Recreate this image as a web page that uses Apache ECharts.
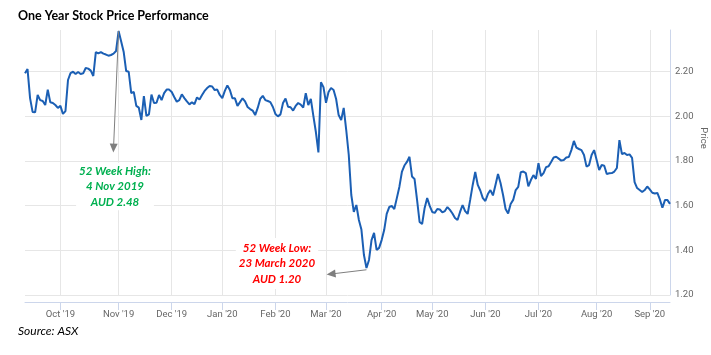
<!DOCTYPE html>
<html><head><meta charset="utf-8">
<script src="https://cdn.jsdelivr.net/npm/echarts@6/dist/echarts.min.js"></script>
<style>html,body{margin:0;padding:0;background:#fff}#c{width:711px;height:355px}</style>
</head><body><div id="c"></div>
<script>
// ASX trading days, 11 Sep 2019 - 11 Sep 2020
const tradingDays = [
"2019-09-11","2019-09-12","2019-09-13","2019-09-16","2019-09-17","2019-09-18","2019-09-19","2019-09-20","2019-09-23","2019-09-24","2019-09-25","2019-09-26","2019-09-27","2019-09-30",
"2019-10-01","2019-10-02","2019-10-03","2019-10-04","2019-10-07","2019-10-08","2019-10-09","2019-10-10","2019-10-11","2019-10-14","2019-10-15","2019-10-16","2019-10-17","2019-10-18","2019-10-21","2019-10-22","2019-10-23","2019-10-24","2019-10-25","2019-10-28","2019-10-29","2019-10-30","2019-10-31",
"2019-11-01","2019-11-04","2019-11-05","2019-11-06","2019-11-07","2019-11-08","2019-11-11","2019-11-12","2019-11-13","2019-11-14","2019-11-15","2019-11-18","2019-11-19","2019-11-20","2019-11-21","2019-11-22","2019-11-25","2019-11-26","2019-11-27","2019-11-28","2019-11-29",
"2019-12-02","2019-12-03","2019-12-04","2019-12-05","2019-12-06","2019-12-09","2019-12-10","2019-12-11","2019-12-12","2019-12-13","2019-12-16","2019-12-17","2019-12-18","2019-12-19","2019-12-20","2019-12-23","2019-12-24","2019-12-27","2019-12-30","2019-12-31",
"2020-01-02","2020-01-03","2020-01-06","2020-01-07","2020-01-08","2020-01-09","2020-01-10","2020-01-13","2020-01-14","2020-01-15","2020-01-16","2020-01-17","2020-01-20","2020-01-21","2020-01-22","2020-01-23","2020-01-24","2020-01-28","2020-01-29","2020-01-30","2020-01-31",
"2020-02-03","2020-02-04","2020-02-05","2020-02-06","2020-02-07","2020-02-10","2020-02-11","2020-02-12","2020-02-13","2020-02-14","2020-02-17","2020-02-18","2020-02-19","2020-02-20","2020-02-21","2020-02-24","2020-02-25","2020-02-26","2020-02-27","2020-02-28",
"2020-03-02","2020-03-03","2020-03-04","2020-03-05","2020-03-06","2020-03-09","2020-03-10","2020-03-11","2020-03-12","2020-03-13","2020-03-16","2020-03-17","2020-03-18","2020-03-19","2020-03-20","2020-03-23","2020-03-24","2020-03-25","2020-03-26","2020-03-27","2020-03-30","2020-03-31",
"2020-04-01","2020-04-02","2020-04-03","2020-04-06","2020-04-07","2020-04-08","2020-04-09","2020-04-14","2020-04-15","2020-04-16","2020-04-17","2020-04-20","2020-04-21","2020-04-22","2020-04-23","2020-04-24","2020-04-27","2020-04-28","2020-04-29","2020-04-30",
"2020-05-01","2020-05-04","2020-05-05","2020-05-06","2020-05-07","2020-05-08","2020-05-11","2020-05-12","2020-05-13","2020-05-14","2020-05-15","2020-05-18","2020-05-19","2020-05-20","2020-05-21","2020-05-22","2020-05-25","2020-05-26","2020-05-27","2020-05-28","2020-05-29",
"2020-06-01","2020-06-02","2020-06-03","2020-06-04","2020-06-05","2020-06-09","2020-06-10","2020-06-11","2020-06-12","2020-06-15","2020-06-16","2020-06-17","2020-06-18","2020-06-19","2020-06-22","2020-06-23","2020-06-24","2020-06-25","2020-06-26","2020-06-29","2020-06-30",
"2020-07-01","2020-07-02","2020-07-03","2020-07-06","2020-07-07","2020-07-08","2020-07-09","2020-07-10","2020-07-13","2020-07-14","2020-07-15","2020-07-16","2020-07-17","2020-07-20","2020-07-21","2020-07-22","2020-07-23","2020-07-24","2020-07-27","2020-07-28","2020-07-29","2020-07-30","2020-07-31",
"2020-08-03","2020-08-04","2020-08-05","2020-08-06","2020-08-07","2020-08-10","2020-08-11","2020-08-12","2020-08-13","2020-08-14","2020-08-17","2020-08-18","2020-08-19","2020-08-20","2020-08-21","2020-08-24","2020-08-25","2020-08-26","2020-08-27","2020-08-28","2020-08-31",
"2020-09-01","2020-09-02","2020-09-03","2020-09-04","2020-09-07","2020-09-08","2020-09-09","2020-09-10","2020-09-11"
];

// closing price (AUD), one per trading day
const prices = [
2.193,2.212,2.082,2.020,2.018,2.096,2.073,2.069,2.051,2.120,2.063,2.060,2.051,2.038,
2.047,2.011,2.024,2.163,2.194,2.200,2.190,2.199,2.190,2.193,2.217,2.214,2.205,2.181,2.288,2.282,2.288,2.281,2.277,2.272,2.275,2.281,2.293,
2.382,2.337,2.290,2.203,2.200,2.104,2.110,2.047,2.039,1.984,2.091,2.002,2.009,2.098,2.060,2.061,2.096,2.073,2.104,2.120,2.120,
2.109,2.087,2.066,2.073,2.099,2.082,2.067,2.054,2.063,2.055,2.085,2.076,2.096,2.114,2.127,2.136,2.134,2.118,2.120,2.096,
2.082,2.114,2.139,2.118,2.081,2.081,2.047,2.064,2.081,2.067,2.042,2.033,2.026,2.006,2.038,2.078,2.092,2.073,2.069,2.064,2.042,
2.011,2.000,2.009,2.060,2.080,2.043,2.041,2.026,2.047,2.060,2.053,2.040,2.104,2.051,2.078,2.002,1.930,1.839,2.153,2.131,
2.061,2.109,2.127,2.118,2.078,2.006,1.984,2.038,1.939,1.827,1.648,1.572,1.603,1.536,1.493,1.379,1.321,1.357,1.446,1.478,1.402,1.411,
1.446,1.491,1.563,1.594,1.599,1.585,1.634,1.684,1.751,1.780,1.796,1.819,1.731,1.720,1.626,1.527,1.518,1.590,1.634,1.599,
1.572,1.568,1.585,1.583,1.570,1.576,1.594,1.581,1.565,1.545,1.536,1.572,1.603,1.576,1.563,1.626,1.693,1.751,1.693,1.668,1.634,
1.621,1.652,1.670,1.646,1.693,1.742,1.702,1.648,1.585,1.565,1.608,1.626,1.670,1.684,1.750,1.753,1.746,1.687,1.715,1.737,1.720,
1.790,1.733,1.746,1.773,1.777,1.796,1.816,1.819,1.811,1.802,1.805,1.816,1.818,1.849,1.890,1.860,1.854,1.849,1.827,1.775,1.782,1.827,1.849,
1.805,1.760,1.782,1.779,1.742,1.745,1.746,1.753,1.769,1.894,1.831,1.836,1.827,1.830,1.814,1.706,1.679,1.670,1.661,1.670,1.686,
1.673,1.658,1.655,1.657,1.628,1.591,1.625,1.625,1.608
];

// x-axis tick labels at the first trading day of each month
const monthStarts = ["2019-10-01","2019-11-01","2019-12-02","2020-01-02","2020-02-03","2020-03-02","2020-04-01","2020-05-01","2020-06-01","2020-07-01","2020-08-03","2020-09-01"];
const monthLabels = ["Oct '19","Nov '19","Dec '19","Jan '20","Feb '20","Mar '20","Apr '20","May '20","Jun '20","Jul '20","Aug '20","Sep '20"];

// y-axis
const yMin = 1.2, yMax = 2.387, yStep = 0.2;

// annotations
const highText = ["52 Week High:", "4 Nov 2019", "AUD 2.48"];
const lowText = ["52 Week Low:", "23 March 2020", "AUD 1.20"];
const highArrow = { from: ["2019-11-01", 2.382], to: ["2019-10-30", 1.858] };
const lowArrow = { from: ["2020-03-24", 1.313], to: ["2020-03-04", 1.294] };

const isMonthStart = (idx, val) => monthStarts.indexOf(val) >= 0;
const axisFont = "Roboto, 'Noto Sans', sans-serif";
const noteFont = "Lato, 'Open Sans', sans-serif";

const chart = echarts.init(document.getElementById('c'), null, { renderer: 'canvas' });
chart.setOption({
  animation: false,
  backgroundColor: '#ffffff',
  title: [
    { text: 'One Year Stock Price Performance', left: 13, top: 4,
      textStyle: { fontFamily: noteFont, fontSize: 12.5, fontWeight: 'bold', color: '#000' } },
    { text: 'Source: ASX', left: 13, top: 320,
      textStyle: { fontFamily: noteFont, fontSize: 12, fontWeight: 'normal', fontStyle: 'italic', color: '#000' } }
  ],
  grid: { left: 25, right: 41, top: 30, bottom: 60, containLabel: false },
  xAxis: {
    type: 'category',
    data: tradingDays,
    boundaryGap: false,
    offset: 7,
    axisLine: { show: true, lineStyle: { color: '#ccd6eb', width: 1 } },
    axisTick: { show: true, interval: isMonthStart, length: 8, lineStyle: { color: '#ccd6eb' } },
    axisLabel: {
      interval: isMonthStart, margin: 8,
      formatter: v => monthLabels[monthStarts.indexOf(v)],
      fontFamily: axisFont, fontSize: 9.5, color: '#666666'
    },
    splitLine: { show: true, interval: isMonthStart, lineStyle: { color: '#e6e6e6', width: 1 } }
  },
  yAxis: {
    type: 'value',
    position: 'right',
    min: yMin, max: yMax, interval: yStep,
    axisLine: { show: true, lineStyle: { color: '#ccd6eb', width: 1 } },
    axisTick: { show: false },
    axisLabel: {
      showMaxLabel: false, margin: 5,
      formatter: v => v.toFixed(2),
      fontFamily: axisFont, fontSize: 9.5, color: '#666666'
    },
    splitLine: { show: true, showMaxLine: false, lineStyle: { color: '#e6e6e6', width: 1 } }
  },
  series: [{
    type: 'line',
    data: prices,
    showSymbol: false,
    symbol: 'none',
    lineStyle: { color: '#1b5fb4', width: 2 },
    itemStyle: { color: '#1b5fb4' },
    silent: true,
    markLine: {
      silent: true,
      animation: false,
      symbol: ['none', 'triangle'],
      symbolSize: [8, 9],
      label: { show: false },
      lineStyle: { color: '#7f7f7f', width: 1, type: 'solid' },
      data: [
        [{ coord: highArrow.from }, { coord: highArrow.to }],
        [{ coord: lowArrow.from }, { coord: lowArrow.to }]
      ]
    }
  }],
  graphic: [
    { type: 'text', x: 703, y: 138, rotation: -Math.PI / 2, silent: true,
      style: { text: 'Price', fill: '#666666', font: "9.5px " + axisFont, align: 'center', verticalAlign: 'middle' } },
    { type: 'text', x: 115, y: 186.5, silent: true, z: 10,
      style: { text: highText.join('\n'), fill: '#00b050', font: "italic bold 11.5px " + noteFont, lineHeight: 15.5,
               align: 'center', verticalAlign: 'middle', backgroundColor: '#ffffff', padding: [1, 3, 0, 3] } },
    { type: 'text', x: 277, y: 263.5, silent: true, z: 10,
      style: { text: lowText.join('\n'), fill: '#ff0000', font: "italic bold 11.5px " + noteFont, lineHeight: 15.7,
               align: 'center', verticalAlign: 'middle', backgroundColor: '#ffffff', padding: [2, 3, 2, 3] } }
  ]
});
</script>
</body></html>
